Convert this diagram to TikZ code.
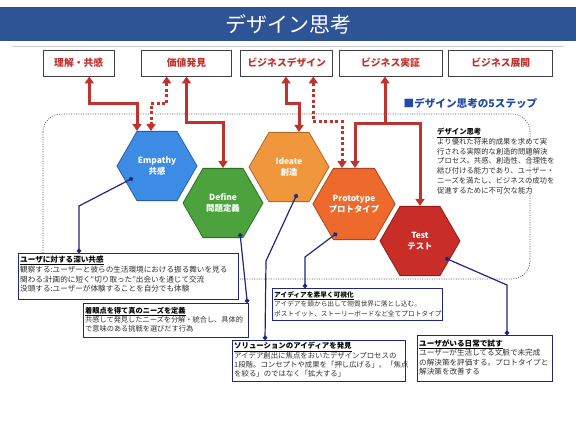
\documentclass[tikz,border=0pt]{standalone}
\usepackage{fontspec}
\setmainfont{Noto Sans CJK JP}
\usetikzlibrary{shapes.geometric,arrows.meta,calc}
\definecolor{barblue}{RGB}{46,84,150}
\definecolor{arrred}{RGB}{192,50,45}
\definecolor{navy}{RGB}{32,40,125}
\definecolor{stepblue}{RGB}{35,75,165}
\definecolor{empf}{RGB}{60,140,230}\definecolor{empd}{RGB}{40,95,170}
\definecolor{deff}{RGB}{76,163,62}\definecolor{defd}{RGB}{45,110,40}
\definecolor{idef}{RGB}{240,150,60}\definecolor{ided}{RGB}{175,105,40}
\definecolor{prof}{RGB}{238,106,44}\definecolor{prod}{RGB}{170,70,30}
\definecolor{tesf}{RGB}{200,45,40}\definecolor{tesd}{RGB}{140,30,25}
\definecolor{bodytxt}{RGB}{50,50,50}
\begin{document}
\begin{tikzpicture}[x=1pt,y=-1pt,
  titlebar/.style={fill=barblue, text=white, minimum width=576pt, minimum height=34pt, inner sep=0pt, font=\fontsize{21}{24}\selectfont},
  topbox/.style={draw=black!75, line width=0.9pt, fill=white, minimum height=26pt, inner sep=0pt, text=arrred, font=\fontsize{9.8}{11}\selectfont\bfseries},
  hexa/.style={regular polygon, regular polygon sides=6, minimum size=80pt, inner sep=0pt, line width=0.8pt, text=white, font=\fontsize{8.4}{11.5}\selectfont\bfseries, align=center},
  redarr/.style={draw=arrred, line width=3pt, {Triangle[width=9pt,length=7pt]}-{Triangle[width=9pt,length=7pt]}},
  redarrone/.style={draw=arrred, line width=3pt, -{Triangle[width=9pt,length=7pt]}},
  reddot/.style={redarr, dash pattern=on 3pt off 2.5pt},
  navyline/.style={draw=navy, line width=1.2pt, {Circle[length=4.5pt]}-{Circle[length=4.5pt]}},
  callbox/.style={draw=navy, line width=1.3pt, fill=white, anchor=north west, inner sep=0pt},
  calltext/.style={anchor=north west, inner sep=0pt, align=left, text=bodytxt},
  frame/.style={draw=black!65, line width=0.7pt, dash pattern=on 1pt off 1.4pt, rounded corners=18pt}
]
\useasboundingbox (0,0) rectangle (576,432);
\fill[white] (0,0) rectangle (576,432);

% title
\node[titlebar] (title) at (288,24) {デザイン思考};
\draw[black!20, line width=0.6pt] (12,46.5) -- (564,46.5);

% top boxes
\node[topbox, minimum width=70.6pt] (b1) at (78.7,63) {理解・共感};
\node[topbox, minimum width=90pt] (b2) at (186.5,63) {価値発見};
\node[topbox, minimum width=92pt] (b3) at (286.8,63) {ビジネスデザイン};
\node[topbox, minimum width=103pt] (b4) at (390.5,63) {ビジネス実証};
\node[topbox, minimum width=104pt] (b5) at (500.8,63) {ビジネス展開};

% dotted frame
\draw[frame] (43,114) rectangle (530,279);

% heading
\node[text=stepblue, font=\fontsize{10.6}{12}\selectfont\bfseries, inner sep=0pt] (steps) at (470.5,103) {■デザイン思考の5ステップ};

% description
\node[calltext, font=\fontsize{7.35}{9.75}\selectfont] (desc) at (437,128) {{\color{black}\bfseries\underline{デザイン思考}}\\
より優れた将来的成果を求めて実\\
行される実際的な創造的問題解決\\
プロセス。共感、創造性、合理性を\\
結び付ける能力であり、ユーザー・\\
ニーズを満たし、ビジネスの成功を\\
促進するために不可欠な能力};

% hexagons
\node[hexa, fill=empf, draw=empd] (emp) at (157,166) {Empathy\\共感};
\node[hexa, fill=deff, draw=defd] (def) at (223,203) {Define\\問題定義};
\node[hexa, fill=idef, draw=ided] (ide) at (289,167) {Ideate\\創造};
\node[hexa, fill=prof, draw=prod] (pro) at (354,204) {Prototype\\プロトタイプ};
\node[hexa, fill=tesf, draw=tesd] (tes) at (420,241) {Test\\テスト};

% red arrows
\draw[redarr] ($(b1.south)+(10.6,0)$) -- ++(0,27) -| ($(emp.north)+(-20,0)$);
\draw[reddot] ($(b2.south)+(-19.8,0)$) -- ++(0,27) -| ($(emp.north)+(-6,0)$);
\draw[redarr] (b2.south) -- ++(0,46) -| (def.north);
\draw[redarr] ($(b3.south)+(-0.8,0)$) -- ++(0,27) -| ($(ide.north)+(10,0)$);
\draw[reddot] ($(b3.south)+(26.5,0)$) -- ++(0,45) -| ($(pro.north)+(-12,0)$);
\coordinate (j6) at ($(b4.south)+(-5.5,47)$);
\draw[redarr] ($(pro.north)+(1,0)$) |- (j6) -| (tes.north);
\draw[redarrone] (j6) -- ($(b4.south)+(-5.5,0)$);

% callout boxes
\node[callbox, minimum width=220pt, minimum height=46pt] (boxA) at (18,253) {};
\node[callbox, minimum width=165pt, minimum height=34pt] (boxB) at (83,303) {};
\node[callbox, minimum width=173pt, minimum height=41pt] (boxC) at (232,340) {};
\node[callbox, minimum width=170pt, minimum height=32pt] (boxD) at (272,288) {};
\node[callbox, minimum width=135pt, minimum height=46pt] (boxE) at (417,335) {};

\node[calltext, font=\fontsize{7.6}{9.9}\selectfont] (txtA) at ($(boxA.north west)+(2,2.5)$) {{\color{black}\bfseries\underline{ユーザに対する深い共感}}\\
観察する:ユーザーと彼らの生活環境における振る舞いを見る\\
関わる:計画的に短く“切り取った”出会いを通じて交流\\
没頭する:ユーザーが体験することを自分でも体験};

\node[calltext, font=\fontsize{7.2}{9.4}\selectfont] (txtB) at ($(boxB.north west)+(2,3.5)$) {{\color{black}\bfseries\underline{着眼点を得て真のニーズを定義}}\\
共感して発見したニーズを分解・統合し、具体的\\
で意味のある挑戦を選びだす行為};

\node[calltext, font=\fontsize{7.4}{9.3}\selectfont] (txtC) at ($(boxC.north west)+(2,2)$) {{\color{black}\bfseries\underline{ソリューションのアイディアを発見}}\\
アイデア創出に焦点をおいたデザインプロセスの\\
1段階。コンセプトや成果を「押し広げる」。「焦点\\
を絞る」のではなく「拡大する」};

\node[calltext, font=\fontsize{6.7}{9.5}\selectfont] (txtD) at ($(boxD.north west)+(2,3.2)$) {{\color{black}\bfseries\underline{アイディアを素早く可視化}}\\
アイデアを頭から出して物質世界に落とし込む。\\
ポストイット、ストーリーボードなど全てプロトタイプ};

\node[calltext, font=\fontsize{7.6}{9.5}\selectfont] (txtE) at ($(boxE.north west)+(2,4.5)$) {{\color{black}\bfseries\underline{ユーザがいる日常で試す}}\\
ユーザーが生活してる文脈で未完成\\
の解決策を評価する。プロトタイプと\\
解決策を改善する};

% navy connectors
\draw[navyline] ($(emp.center)+(-24,12)$) -- ($(boxA.north west)+(61,-47)$) -- ($(boxA.north west)+(61,0)$);
\draw[navyline] ($(def.center)+(17,30)$) -- ($(boxB.north east)+(-2,0)$);
\draw[navyline] ($(ide.center)+(8,27)$) -- ($(boxC.north west)+(34,-79)$) -- ($(boxC.north west)+(33,0)$);
\draw[navyline] ($(pro.center)+(-17,29)$) -- ($(boxD.north west)+(33,-31)$) -- ($(boxD.north west)+(33,0)$);
\draw[navyline] ($(tes.center)+(25,17)$) -- ($(boxE.north west)+(90,-50)$) -- ($(boxE.north west)+(90,0)$);
\end{tikzpicture}
\end{document}
